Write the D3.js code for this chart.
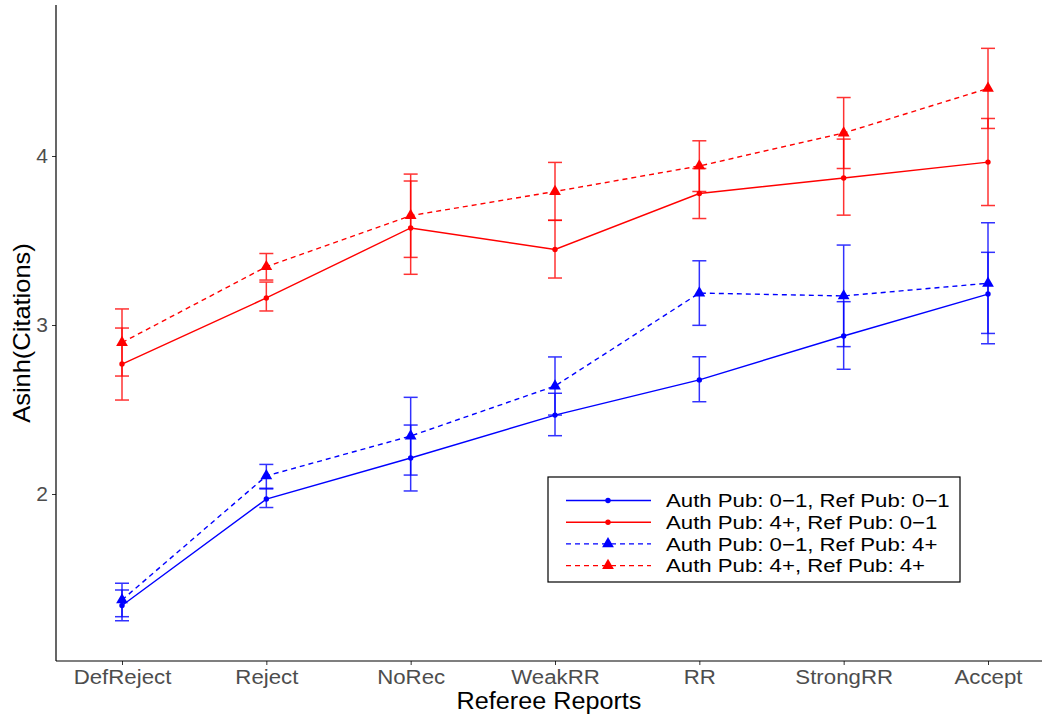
<!DOCTYPE html>
<html><head><meta charset="utf-8">
<script src="https://cdn.jsdelivr.net/npm/d3@7"></script>
<style>body{margin:0;background:#fff;}svg{display:block;font-family:"Liberation Sans",Arial,sans-serif;}</style>
</head><body><svg id="c" width="1042" height="715"></svg>
<script>
const categories = ["DefReject","Reject","NoRec","WeakRR","RR","StrongRR","Accept"];
const seriesNames = ["Auth Pub: 0\u22121, Ref Pub: 0\u22121","Auth Pub: 4+, Ref Pub: 0\u22121","Auth Pub: 0\u22121, Ref Pub: 4+","Auth Pub: 4+, Ref Pub: 4+"];
const seriesColors = ["#0000ff","#ff0000","#0000ff","#ff0000"];
const seriesDashed = [false,false,true,true];
const seriesShape = ["circle","circle","triangle","triangle"];
// means
const auth01ref01 = [1.340,1.970,2.213,2.467,2.675,2.935,3.183];
const auth4ref01  = [2.769,3.160,3.574,3.447,3.778,3.870,3.964];
const auth01ref4  = [1.373,2.107,2.343,2.639,3.189,3.172,3.247];
const auth4ref4   = [2.896,3.345,3.647,3.790,3.941,4.136,4.400];
// lower / upper bounds
const auth01ref01Lo = [1.250,1.920,2.018,2.345,2.546,2.738,2.950];
const auth01ref01Hi = [1.432,2.034,2.408,2.596,2.812,3.138,3.430];
const auth4ref01Lo  = [2.556,3.083,3.300,3.278,3.630,3.650,3.707];
const auth4ref01Hi  = [2.982,3.254,3.852,3.620,3.926,4.100,4.222];
const auth01ref4Lo  = [1.274,2.030,2.112,2.467,2.998,2.872,2.889];
const auth01ref4Hi  = [1.472,2.175,2.572,2.811,3.380,3.473,3.605];
const auth4ref4Lo   = [2.698,3.266,3.400,3.619,3.790,3.926,4.163];
const auth4ref4Hi   = [3.095,3.423,3.893,3.962,4.090,4.346,4.637];
const yTicks = [2,3,4];

const means = [auth01ref01,auth4ref01,auth01ref4,auth4ref4];
const los = [auth01ref01Lo,auth4ref01Lo,auth01ref4Lo,auth4ref4Lo];
const his = [auth01ref01Hi,auth4ref01Hi,auth01ref4Hi,auth4ref4Hi];

const svg = d3.select("#c");
const pLeft = 56, pRight = 1042, pTop = 5, pBottom = 661;
const x = d3.scalePoint().domain(categories).range([122, 988]);
const y = d3.scaleLinear().domain([2, 4]).range([494, 156]);

// axes
const xAxis = svg.append("g").attr("transform",`translate(0,${pBottom})`)
  .call(d3.axisBottom(x).tickSize(4).tickPadding(4));
xAxis.select(".domain").remove();
xAxis.selectAll("line").attr("stroke","#333");
xAxis.selectAll("text").attr("fill","#4d4d4d").style("font-size","21px").attr("dy","0.71em")
  .attr("transform","scale(1.06,1)")
  .style("font-family","'Liberation Sans',Arial,sans-serif");
const yAxis = svg.append("g").attr("transform",`translate(${pLeft},0)`)
  .call(d3.axisLeft(y).tickValues(yTicks).tickFormat(d3.format("d")).tickSize(4).tickPadding(4));
yAxis.select(".domain").remove();
yAxis.selectAll("line").attr("stroke","#333");
yAxis.selectAll("text").attr("fill","#4d4d4d").style("font-size","21px")
  .style("font-family","'Liberation Sans',Arial,sans-serif");
svg.append("line").attr("x1",pLeft).attr("x2",pLeft).attr("y1",pTop).attr("y2",pBottom).attr("stroke","#000").attr("stroke-width",1.2);
svg.append("line").attr("x1",pLeft).attr("x2",pRight).attr("y1",pBottom).attr("y2",pBottom).attr("stroke","#000").attr("stroke-width",1.2);

// titles
svg.append("text").attr("transform",`translate(${(pLeft+pRight)/2},709) scale(1.05,1)`).attr("text-anchor","middle")
  .style("font-size","24px").attr("fill","#000").text("Referee Reports");
svg.append("text").attr("transform",`translate(30,${(pTop+pBottom)/2}) rotate(-90) scale(1.06,1)`).attr("text-anchor","middle")
  .style("font-size","24px").attr("fill","#000").text("Asinh(Citations)");

const capW = 7;
// error bars
means.forEach((m,si)=>{
  const g = svg.append("g").attr("stroke",seriesColors[si]).attr("stroke-width",1.5).attr("opacity",0.8);
  categories.forEach((c,i)=>{
    const cx = x(c);
    g.append("line").attr("x1",cx).attr("x2",cx).attr("y1",y(los[si][i])).attr("y2",y(his[si][i]));
    g.append("line").attr("x1",cx-capW).attr("x2",cx+capW).attr("y1",y(los[si][i])).attr("y2",y(los[si][i]));
    g.append("line").attr("x1",cx-capW).attr("x2",cx+capW).attr("y1",y(his[si][i])).attr("y2",y(his[si][i]));
  });
});
// lines
const line = d3.line().x((d,i)=>x(categories[i])).y(d=>y(d));
means.forEach((m,si)=>{
  svg.append("path").datum(m).attr("d",line).attr("fill","none")
    .attr("stroke",seriesColors[si]).attr("stroke-width",1.4)
    .attr("stroke-dasharray",seriesDashed[si]?"5,4":null);
});
// points
const tri = d3.symbol(d3.symbolTriangle, 60);
function drawMarker(g, shape, cx, cy, col){
  if(shape==="circle") g.append("circle").attr("cx",cx).attr("cy",cy).attr("r",2.7).attr("fill",col);
  else g.append("path").attr("d",tri()).attr("transform",`translate(${cx},${cy})`).attr("fill",col);
}
means.forEach((m,si)=>{
  const g = svg.append("g");
  m.forEach((v,i)=>drawMarker(g, seriesShape[si], x(categories[i]), y(v), seriesColors[si]));
});

// legend
const lg = svg.append("g");
lg.append("rect").attr("x",548).attr("y",477).attr("width",412).attr("height",105)
  .attr("fill","#fff").attr("stroke","#000").attr("stroke-width",1.2);
seriesNames.forEach((n,si)=>{
  const ry = 500.5 + si*21.7;
  lg.append("line").attr("x1",566).attr("x2",651).attr("y1",ry).attr("y2",ry)
    .attr("stroke",seriesColors[si]).attr("stroke-width",1.4).attr("stroke-dasharray",seriesDashed[si]?"5,4":null);
  drawMarker(lg, seriesShape[si], 608, ry, seriesColors[si]);
  lg.append("text").attr("transform",`translate(666,${ry}) scale(1.2,1)`).attr("dy","0.36em")
    .style("font-size","18.5px").attr("fill","#000").text(n);
});
</script></body></html>
